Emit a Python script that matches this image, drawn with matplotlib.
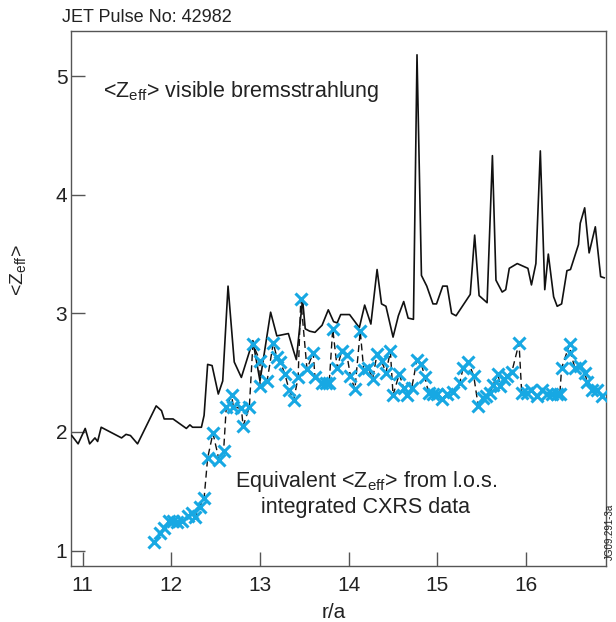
import numpy as np
import matplotlib
matplotlib.use('Agg')
matplotlib.rcParams.update({'font.family': 'Liberation Sans', 'font.size': 15,
                            'axes.linewidth': 1.0, 'mathtext.default': 'regular'})
from matplotlib import pyplot as plt

# visible bremsstrahlung <Zeff>
brem_x = [10.878, 10.95, 11.03, 11.08, 11.14, 11.17, 11.21, 11.44, 11.49, 11.54, 11.62,
          11.83, 11.89, 11.92, 12.02, 12.17, 12.21, 12.24, 12.34, 12.37, 12.41, 12.46,
          12.53, 12.58, 12.64, 12.71, 12.79, 12.92, 13.00, 13.12, 13.19, 13.32, 13.38,
          13.41, 13.48, 13.51, 13.56, 13.62, 13.70, 13.77, 13.83, 13.87, 13.91, 14.01,
          14.12, 14.18, 14.25, 14.32, 14.37, 14.42, 14.50, 14.56, 14.62, 14.67, 14.73,
          14.77, 14.82, 14.88, 14.95, 14.99, 15.06, 15.11, 15.16, 15.21, 15.37, 15.42,
          15.47, 15.56, 15.62, 15.66, 15.73, 15.77, 15.81, 15.90, 16.02, 16.06, 16.11,
          16.16, 16.21, 16.25, 16.31, 16.35, 16.40, 16.46, 16.50, 16.59, 16.61, 16.66,
          16.71, 16.78, 16.84, 16.88]
brem_y = [1.97, 1.90, 2.03, 1.90, 1.95, 1.92, 2.04, 1.95, 1.98, 1.97, 1.90,
          2.22, 2.18, 2.11, 2.11, 2.03, 2.06, 2.04, 2.04, 2.14, 2.57, 2.56,
          2.32, 2.43, 3.23, 2.59, 2.46, 2.77, 2.43, 3.01, 2.81, 2.83, 2.68,
          2.61, 3.12, 2.87, 2.85, 2.84, 2.90, 3.03, 2.93, 2.92, 2.99, 2.99,
          2.88, 3.07, 2.91, 3.37, 3.08, 3.06, 2.80, 2.98, 3.10, 2.96, 2.95,
          5.18, 3.32, 3.23, 3.08, 3.08, 3.23, 3.23, 3.00, 2.98, 3.16, 3.66,
          3.15, 3.09, 4.33, 3.28, 3.18, 3.20, 3.38, 3.42, 3.38, 3.24, 3.42,
          4.37, 3.20, 3.50, 3.14, 3.06, 3.08, 3.36, 3.37, 3.58, 3.76, 3.89,
          3.51, 3.73, 3.31, 3.30]

# equivalent <Zeff> from CXRS
cxrs_x = [11.81, 11.87, 11.92, 11.97, 12.02, 12.07, 12.12, 12.19, 12.23, 12.27,
          12.32, 12.37, 12.41, 12.47, 12.54, 12.59, 12.62, 12.68, 12.70, 12.79,
          12.81, 12.88, 12.92, 13.00, 13.00, 13.08, 13.15, 13.19, 13.23, 13.28,
          13.33, 13.38, 13.43, 13.46, 13.53, 13.60, 13.62, 13.70, 13.74, 13.78,
          13.82, 13.87, 13.92, 13.98, 14.02, 14.07, 14.13, 14.17, 14.22, 14.27,
          14.32, 14.37, 14.42, 14.47, 14.50, 14.57, 14.62, 14.66, 14.71, 14.77,
          14.82, 14.86, 14.90, 14.95, 14.99, 15.05, 15.11, 15.18, 15.25, 15.29,
          15.35, 15.41, 15.46, 15.51, 15.55, 15.59, 15.63, 15.68, 15.71, 15.75,
          15.79, 15.84, 15.92, 15.95, 16.01, 16.06, 16.12, 16.18, 16.23, 16.29,
          16.35, 16.38, 16.40, 16.49, 16.50, 16.55, 16.61, 16.66, 16.69, 16.74,
          16.80, 16.85]
cxrs_y = [1.07, 1.15, 1.19, 1.25, 1.25, 1.24, 1.25, 1.29, 1.32, 1.28,
          1.37, 1.44, 1.78, 1.99, 1.76, 1.84, 2.21, 2.31, 2.21, 2.20,
          2.05, 2.21, 2.74, 2.60, 2.39, 2.43, 2.75, 2.63, 2.59, 2.49,
          2.35, 2.27, 2.46, 3.12, 2.53, 2.67, 2.46, 2.41, 2.41, 2.41,
          2.87, 2.54, 2.68, 2.65, 2.47, 2.36, 2.85, 2.52, 2.54, 2.45,
          2.66, 2.60, 2.50, 2.68, 2.31, 2.49, 2.37, 2.31, 2.37, 2.61,
          2.57, 2.46, 2.33, 2.32, 2.32, 2.28, 2.32, 2.34, 2.41, 2.54,
          2.59, 2.47, 2.22, 2.29, 2.30, 2.33, 2.40, 2.49, 2.39, 2.45,
          2.47, 2.51, 2.75, 2.33, 2.33, 2.35, 2.30, 2.35, 2.32, 2.32,
          2.32, 2.32, 2.54, 2.74, 2.67, 2.54, 2.56, 2.50, 2.42, 2.35,
          2.35, 2.30]

xticks = [11, 12, 13, 14, 15, 16]
yticks = [1, 2, 3, 4, 5]

txt = '#222222'
blue = '#17a8e3'

f = plt.figure(figsize=(6.16, 6.22), dpi=100)
ax = f.add_axes([0.116, 0.090, 0.867, 0.860])

ax.plot(brem_x, brem_y, color='#111111', linewidth=1.2, zorder=3)
ax.plot(cxrs_x, cxrs_y, color='#111111', linewidth=1.0, dashes=(5, 3), zorder=2)
ax.plot(cxrs_x, cxrs_y, linestyle='none', marker='x', markersize=9,
        markeredgewidth=2.2, color=blue, zorder=4)

ax.set_xlim(10.875, 16.895)
ax.set_ylim(0.87, 5.38)
ax.set_xticks(xticks)
ax.set_yticks(yticks)
ax.tick_params(direction='in', length=10, width=1.0, color='#555555',
               labelcolor=txt, labelsize=15)
ax.tick_params(axis='x', pad=7)
ax.tick_params(axis='y', pad=3)
for s in ax.spines.values():
    s.set_color('#555555')

f.text(62/616, 1-18/622, 'JET Pulse No: 42982', ha='left', va='center', color=txt, fontsize=13)
f.text(18/616, 1-270/622, r'<$Z_{eff}$>', ha='center', va='center', rotation=90, color=txt, fontsize=14)
f.text(334/616, 1-612/622, 'r/a', ha='center', va='center', color=txt, fontsize=15)
f.text(103/616, 1-92/622, r'<$Z_{eff}$> visible bremsstrahlung', ha='left', va='center', color=txt, fontsize=15.5)
f.text(366/616, 1-481/622, r'Equivalent <$Z_{eff}$> from l.o.s.', ha='center', va='center', color=txt, fontsize=15.5)
f.text(366/616, 1-508/622, 'integrated CXRS data', ha='center', va='center', color=txt, fontsize=15.5)
f.text(610/616, 1-532/622, 'JG09.291-3a', ha='center', va='center', rotation=90, color=txt, fontsize=7)

plt.savefig('out.png', dpi=100)
